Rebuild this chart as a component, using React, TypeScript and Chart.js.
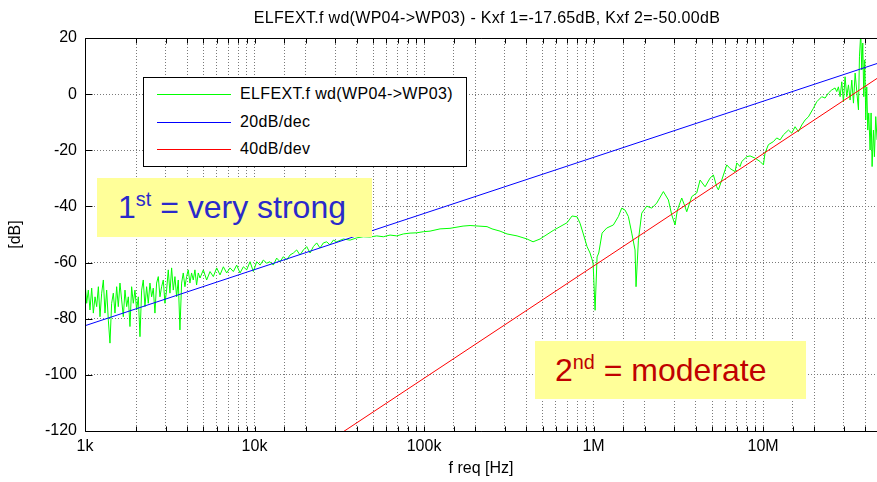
import React, { useEffect, useRef } from 'react';
import { Chart, registerables } from 'chart.js';

Chart.register(...registerables);

const FONT = '"Liberation Sans", Arial, Helvetica, sans-serif';

const titleText = 'ELFEXT.f wd(WP04->WP03) - Kxf 1=-17.65dB, Kxf 2=-50.00dB';
const xAxisTitle = 'f req [Hz]';
const yAxisTitle = '[dB]';
const seriesNames = ['ELFEXT.f wd(WP04->WP03)', '20dB/dec', '40dB/dev'];
const seriesColors = ['#00FF00', '#0000FF', '#FF0000'];
const decadeLabels = ['1k', '10k', '100k', '1M', '10M'];
const decadeExponents = [3, 4, 5, 6, 7];
const xMin = 1e3;
const xMax = 4.7e7;
const yMin = -120;
const yMax = 20;
const yStep = 20;

// measured trace (frequency in Hz, level in dB)
const greenFreq = [
  1000, 1023, 1046, 1070, 1095, 1120, 1146, 1172, 1199, 1226, 1254, 1283, 1312, 1342, 1373, 1404,
  1436, 1469, 1503, 1537, 1572, 1608, 1645, 1683, 1721, 1761, 1801, 1842, 1884, 1927, 1971, 2016,
  2063, 2110, 2158, 2207, 2258, 2309, 2362, 2416, 2472, 2528, 2586, 2645, 2706, 2768, 2831, 2896,
  2962, 3030, 3099, 3170, 3243, 3317, 3393, 3470, 3550, 3631, 3714, 3799, 3886, 3975, 4066, 4159,
  4254, 4351, 4451, 4553, 4657, 4770, 4990, 5221, 5464, 5716, 5981, 6259, 6549, 6852, 7170, 7502,
  7849, 8213, 8594, 8992, 9408, 9840, 10300, 10780, 11270, 11800, 12340, 12910, 13510, 14140, 14790,
  15480, 16200, 16950, 17730, 18550, 19420, 20320, 21260, 22240, 23270, 24350, 25480, 26660, 27890,
  29180, 30530, 33430, 36600, 40070, 43860, 48020, 52580, 57560, 63010, 69010, 75530, 82680, 90550,
  99100, 108500, 124300, 142300, 169900, 186800, 235300, 251800, 280800, 308800, 353800, 405300,
  439700, 483500, 576900, 697900, 746800, 799300, 832500, 867200, 915600, 953600, 975000, 993400,
  1021000, 1049000, 1073000, 1123000, 1196000, 1309000, 1401000, 1466000, 1534000, 1605000, 1680000,
  1757000, 1781000, 1839000, 1924000, 2059000, 2204000, 2359000, 2582000, 2764000, 2892000, 3026000,
  3123000, 3313000, 3466000, 3546000, 3795000, 4062000, 4250000, 4549000, 4868000, 5093000, 5330000,
  5452000, 5705000, 6106000, 6389000, 6836000, 6995000, 7316000, 7483000, 8009000, 8381000, 8970000,
  9600000, 10050000, 10270000, 10750000, 11510000, 12040000, 12600000, 13180000, 14110000, 14770000,
  15450000, 16160000, 16910000, 17700000, 18510000, 19820000, 20740000, 22200000, 23220000, 24300000,
  25420000, 26600000, 27210000, 27830000, 28470000, 29130000, 29790000, 30470000, 31170000, 31890000,
  32620000, 33370000, 34140000, 34920000, 35720000, 36540000, 37040000, 37710000, 38220000, 38740000,
  39270000, 39800000, 40350000, 40900000, 41460000, 42030000, 42790000, 43370000, 43970000, 44770000,
  45380000, 46200000, 47060000,
];
const greenDb = [
  -66.8, -74.5, -69.8, -76.9, -69.1, -78, -72.2, -75.7, -68.6, -79.3, -70.9, -66.2, -78, -69.8, -80.5, -88.7,
  -74.5, -70.9, -78, -68.6, -75.7, -67.3, -73.3, -79.3, -69.8, -75.7, -72.2, -82.8, -68.6, -74.5, -69.8, -76.9,
  -72.2, -86.4, -69.8, -66.2, -75.7, -68.6, -74.5, -67.3, -72.2, -69.1, -78, -67.3, -65, -72.2, -68.6, -66.2,
  -74.5, -69.8, -62.6, -70.9, -61.9, -69.8, -65, -72.2, -66.2, -84, -67.3, -63.7, -68.6, -65, -62.6, -67.3,
  -63.7, -66.2, -62.6, -68, -63.7, -65.5, -62.6, -66.2, -63.2, -65, -61.9, -64.4, -61.5, -63.7, -61.9, -63.2,
  -60.9, -63.7, -61.5, -62.6, -59.7, -63.2, -59.7, -60.9, -59.1, -60.2, -59.7, -60.9, -58.4, -59.7, -57.9,
  -59.1, -57.3, -56.6, -55.5, -57.3, -55.5, -54.3, -56.6, -54.3, -53, -54.8, -53, -52.6, -53.7,
  -52, -52.6, -51.6, -52, -51.2, -50.8, -50.9, -50.5, -50.8, -50.2, -50.5, -49.8, -49.5, -49.4,
  -49, -48.8, -48, -47.8, -47, -46.8, -47.2, -48, -48.8, -49.8, -50.5, -51.6,
  -52.6, -51.6, -48.6, -45.8, -43.4, -43.7, -46, -49.5, -54.3, -56.6, -58.5, -60,
  -77, -58, -56.6, -49.5, -47.7, -46.6, -43.6, -40.6, -41.3, -43.6, -49.5,
  -55.5, -68.6, -52, -42.4, -39.9, -40.6, -38.8, -34.7, -37.7, -43, -46.6,
  -41.3, -37, -40.1, -41.9, -36.5, -35.2, -30.6, -33, -29.9, -28.8, -33,
  -34.1, -30.6, -25.2, -26.5, -27.6, -24.5, -25.8, -24, -22.3, -22, -22.8,
  -24, -25.2, -21, -18, -16.9, -15.6, -16.3, -14.5, -12.8, -13.9,
  -11.6, -13.4, -11, -9.2, -8.1, -5, -2.7, -0.9, -1.4, 0.4,
  1.5, 2.2, 0.9, 2.6, -0.9, 4.4, -2.7, 6.2, -0.9, 3.3,
  -2.1, 5, -3.2, 7.5, 0.9, -5.6, 13.3, 22, 8.6, 18.2,
  -0.9, 12.2, -9.2, 2.6, -12.8, -6.7, -19.9, -6.7, -25.8, -12.8,
  -22.3, -8, -16.3,
];

// reference slopes (end points)
const blueFreq = [1e3, 4.7e7];
const blueDb = [-82.5, 10.9];
const redFreq = [3.2e4, 4.7e7];
const redDb = [-121, 5.6];

const zip = (xs: number[], ys: number[]) => xs.map((x, i) => ({ x, y: ys[i] }));

const framePlugin = {
  id: 'frame',
  afterDraw(chart: any) {
    const { ctx, chartArea } = chart;
    const { left, right, top, bottom } = chartArea;
    const xs = chart.scales.x;
    const ys = chart.scales.y;
    ctx.save();
    ctx.strokeStyle = '#000';
    ctx.lineWidth = 1;
    ctx.setLineDash([]);
    ctx.beginPath();
    const L = Math.round(left) + 0.5;
    const T = Math.round(top) + 0.5;
    const B = Math.round(bottom) + 0.5;
    ctx.moveTo(L, B);
    ctx.lineTo(L, T);
    ctx.lineTo(right, T);
    ctx.moveTo(L, B);
    ctx.lineTo(right, B);
    xs.ticks.forEach((t: any) => {
      const px = Math.round(xs.getPixelForValue(t.value)) + 0.5;
      if (px <= L + 1 || px >= right - 1) return;
      ctx.moveTo(px, B);
      ctx.lineTo(px, B - 5);
      ctx.moveTo(px, T);
      ctx.lineTo(px, T + 5);
    });
    ys.ticks.forEach((t: any) => {
      const py = Math.round(ys.getPixelForValue(t.value)) + 0.5;
      ctx.moveTo(L, py);
      ctx.lineTo(L + 7, py);
    });
    ctx.stroke();
    ctx.restore();
  },
};

export default function App() {
  const canvasRef = useRef<HTMLCanvasElement | null>(null);

  useEffect(() => {
    if (!canvasRef.current) return;
    const chart = new Chart(canvasRef.current, {
      type: 'line',
      data: {
        datasets: [
          {
            label: seriesNames[0],
            data: zip(greenFreq, greenDb),
            borderColor: seriesColors[0],
            borderWidth: 1,
            pointRadius: 0,
            tension: 0,
            order: 3,
          },
          {
            label: seriesNames[1],
            data: zip(blueFreq, blueDb),
            borderColor: seriesColors[1],
            borderWidth: 1,
            pointRadius: 0,
            tension: 0,
            order: 2,
          },
          {
            label: seriesNames[2],
            data: zip(redFreq, redDb),
            borderColor: seriesColors[2],
            borderWidth: 1,
            pointRadius: 0,
            tension: 0,
            order: 1,
          },
        ],
      },
      options: {
        animation: false,
        responsive: false,
        events: [],
        layout: { padding: { top: 38, left: 0, right: 0, bottom: 0 } },
        plugins: {
          legend: { display: false },
          tooltip: { enabled: false },
          title: { display: false },
        },
        scales: {
          x: {
            type: 'logarithmic',
            min: xMin,
            max: xMax,
            position: 'bottom',
            grid: { color: '#7a7a7a', lineWidth: 1, drawTicks: false },
            border: { display: false, dash: [1, 2] },
            ticks: {
              autoSkip: false,
              maxRotation: 0,
              minRotation: 0,
              padding: 6,
              color: '#000',
              font: { family: FONT, size: 16 },
              callback: (v: any) => {
                const l = Math.log10(Number(v));
                const r = Math.round(l);
                if (Math.abs(l - r) < 1e-6) {
                  const i = decadeExponents.indexOf(r);
                  return i >= 0 ? decadeLabels[i] : '';
                }
                return '';
              },
            },
            title: {
              display: true,
              text: xAxisTitle,
              color: '#000',
              font: { family: FONT, size: 16 },
              padding: { top: 0, bottom: 4 },
            },
            afterFit: (s: any) => {
              s.height = 51;
              s.paddingRight = 0;
              s.paddingLeft = 0;
            },
          },
          y: {
            type: 'linear',
            min: yMin,
            max: yMax,
            grid: { color: '#7a7a7a', lineWidth: 1, drawTicks: false },
            border: { display: false, dash: [1, 2] },
            ticks: {
              stepSize: yStep,
              padding: 8,
              color: '#000',
              font: { family: FONT, size: 16 },
            },
            title: {
              display: true,
              text: yAxisTitle,
              color: '#000',
              font: { family: FONT, size: 16 },
              padding: { top: 6, bottom: 0 },
            },
            afterFit: (s: any) => {
              s.width = 85;
            },
          },
        },
      },
      plugins: [framePlugin],
    } as any);
    return () => chart.destroy();
  }, []);

  const legendRows = [94, 122, 149];

  return (
    <div
      style={{
        position: 'absolute',
        left: 0,
        top: 0,
        width: 877,
        height: 482,
        background: '#fff',
        overflow: 'hidden',
        fontFamily: FONT,
      }}
    >
      <canvas ref={canvasRef} width={877} height={482} style={{ position: 'absolute', left: 0, top: 0, width: 877, height: 482 }} />
      <div
        style={{
          position: 'absolute',
          left: 487,
          top: 8,
          transform: 'translateX(-50%)',
          whiteSpace: 'nowrap',
          fontSize: 16,
          lineHeight: '20px',
          letterSpacing: '0.3px',
          color: '#000',
        }}
      >
        {titleText}
      </div>
      <div
        style={{
          position: 'absolute',
          left: 143,
          top: 77,
          width: 324,
          height: 90,
          boxSizing: 'border-box',
          border: '1px solid #000',
          background: '#fff',
        }}
      />
      {seriesNames.map((name, i) => (
        <React.Fragment key={name}>
          <div
            style={{
              position: 'absolute',
              left: 157,
              top: legendRows[i],
              width: 74,
              height: 1,
              background: seriesColors[i],
            }}
          />
          <div
            style={{
              position: 'absolute',
              left: 240,
              top: legendRows[i] - 10,
              fontSize: 16,
              lineHeight: '20px',
              letterSpacing: '0.35px',
              whiteSpace: 'nowrap',
              color: '#000',
            }}
          >
            {name}
          </div>
        </React.Fragment>
      ))}
      <div
        style={{
          position: 'absolute',
          left: 97,
          top: 178,
          width: 275,
          height: 59,
          background: '#FFFF99',
          color: '#2A2ACB',
          fontSize: 32,
          lineHeight: '59px',
          paddingLeft: 21,
          boxSizing: 'border-box',
          whiteSpace: 'nowrap',
        }}
      >
        1<sup style={{ fontSize: '0.62em', verticalAlign: 'super', lineHeight: 0 }}>st</sup> = very strong
      </div>
      <div
        style={{
          position: 'absolute',
          left: 535,
          top: 341,
          width: 271,
          height: 58,
          background: '#FFFF99',
          color: '#C00000',
          fontSize: 32,
          lineHeight: '58px',
          paddingLeft: 20,
          boxSizing: 'border-box',
          whiteSpace: 'nowrap',
        }}
      >
        2<sup style={{ fontSize: '0.62em', verticalAlign: 'super', lineHeight: 0 }}>nd</sup> = moderate
      </div>
    </div>
  );
}
